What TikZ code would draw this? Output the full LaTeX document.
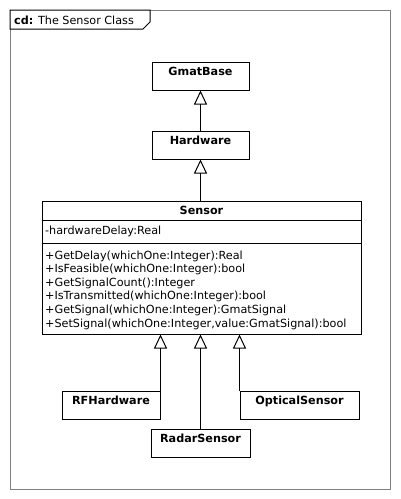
\documentclass[tikz,border=0pt]{standalone}
\usepackage{fontspec}
\setmainfont{DejaVu Sans}
\usetikzlibrary{positioning}
\usetikzlibrary{arrows.meta}

\tikzset{
  classbox/.style={draw, line width=1pt, inner xsep=0pt, inner ysep=0pt,
    text height=13pt, text depth=15pt, font=\fontsize{11.2}{13}\selectfont\bfseries},
  member/.style={anchor=base west, inner sep=0pt, font=\fontsize{11.2}{13}\selectfont},
  inherit/.style={line width=1pt, -{Triangle[open, length=14pt, width=13pt]}},
}

\begin{document}
\begin{tikzpicture}[x=1pt, y=-1pt]
  \useasboundingbox (0,0) rectangle (400,499);

  % frame and tab
  \draw[gray, line width=1pt] (10,10) rectangle (390,489);
  \draw[line width=1pt, fill=white] (10,10) -- (150,10) -- (150,22) -- (143,29) -- (10,29) -- cycle;
  \node[member] (title) at (14,24.5) {\textbf{cd:} The Sensor Class};

  % classes
  \node[classbox, minimum width=97pt] (gmat) at (200.5,76) {GmatBase};
  \node[classbox, minimum width=97pt] (hw) at (200.5,145) {Hardware};

  \node[draw, line width=1pt, minimum width=319pt, minimum height=133pt, inner sep=0pt] (sensor) at (201.5,267.5) {};
  \draw[line width=1pt] (sensor.west |- 0,220) -- (sensor.east |- 0,220);
  \draw[line width=1pt] (sensor.west |- 0,243) -- (sensor.east |- 0,243);
  \node[member, anchor=base, font=\fontsize{11.2}{13}\selectfont\bfseries] (sensorname) at (201.5,214) {Sensor};
  \node[member] (attr) at (45,234) {-hardwareDelay:Real};
  \foreach \m [count=\i] in {{+GetDelay(whichOne:Integer):Real},
      {+IsFeasible(whichOne:Integer):bool},
      {+GetSignalCount():Integer},
      {+IsTransmitted(whichOne:Integer):bool},
      {+GetSignal(whichOne:Integer):GmatSignal},
      {+SetSignal(whichOne:Integer,value:GmatSignal):bool}}
    \node[member] (op\i) at (45,245.4+13.6*\i) {\m};

  \node[classbox, minimum width=98pt] (rf) at (111,405) {RFHardware};
  \node[classbox, minimum width=99pt] (radar) at (200.5,443) {RadarSensor};
  \node[classbox, minimum width=119pt] (optical) at (299.5,405) {OpticalSensor};

  % generalizations
  \draw[inherit] (hw) -- (gmat);
  \draw[inherit] (hw.south |- sensor.north) -- (hw.south);
  \draw[inherit] (rf.north east) -- (rf.north east |- sensor.south);
  \draw[inherit] (radar) -- (radar.north |- sensor.south);
  \draw[inherit] (optical.north west) -- (optical.north west |- sensor.south);
\end{tikzpicture}
\end{document}
